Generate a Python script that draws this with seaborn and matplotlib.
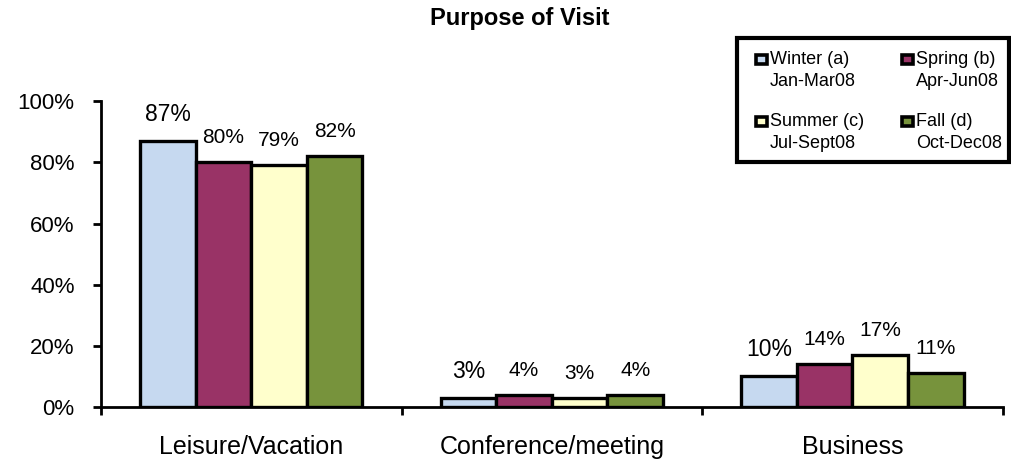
import matplotlib
matplotlib.use("Agg")
import matplotlib.pyplot as plt
from matplotlib.patches import Rectangle
import seaborn as sns
import pandas as pd

categories = ["Leisure/Vacation", "Conference/meeting", "Business"]
seasons = ["Winter (a)", "Spring (b)", "Summer (c)", "Fall (d)"]
periods = ["Jan-Mar08", "Apr-Jun08", "Jul-Sept08", "Oct-Dec08"]
winter = [87, 3, 10]
spring = [80, 4, 14]
summer = [79, 3, 17]
fall = [82, 4, 11]
colors = ["#C6D9F0", "#993366", "#FFFFCC", "#77933C"]
yticks = [0, 20, 40, 60, 80, 100]

rows = []
for season, vals in zip(seasons, [winter, spring, summer, fall]):
    for cat, v in zip(categories, vals):
        rows.append({"category": cat, "season": season, "pct": v})
df = pd.DataFrame(rows)

sns.set_theme(style="white")
plt.rcParams["font.family"] = ["Liberation Sans", "DejaVu Sans"]
plt.rcParams["text.color"] = "black"
plt.rcParams["xtick.color"] = "black"
plt.rcParams["ytick.color"] = "black"

W, H = 1012, 462
fig = plt.figure(figsize=(W / 100, H / 100), dpi=100)
ax = fig.add_axes([0.0998, 0.119, 0.891, 0.662])

sns.barplot(data=df, x="category", y="pct", hue="season", order=categories,
            hue_order=seasons, palette=colors, width=0.74, gap=0,
            edgecolor="black", linewidth=2.4, saturation=1, ax=ax,
            legend=False, errorbar=None)

for i, cont in enumerate(ax.containers):
    ax.bar_label(cont, labels=[f"{v:.0f}%" for v in cont.datavalues],
                 padding=11, fontsize=16.5 if i == 0 else 15)

ax.set_ylim(0, 100)
ax.set_xlim(-0.5, 2.5)
ax.set_yticks(yticks)
ax.set_yticklabels([f"{t}%" for t in yticks], fontsize=16)
ax.set_xticks([-0.5, 0.5, 1.5, 2.5])
ax.set_xticklabels([])
ax.set_xticks([0, 1, 2], minor=True)
ax.set_xticklabels(categories, minor=True, fontsize=18)
ax.tick_params(axis="x", which="minor", length=0, pad=20)
ax.tick_params(axis="x", which="major", direction="out", length=6, width=2,
               bottom=True)
ax.tick_params(axis="y", direction="out", length=6, width=2, left=True,
               pad=13)
ax.set_xlabel("")
ax.set_ylabel("")

for side in ["top", "right"]:
    ax.spines[side].set_visible(False)
for side in ["left", "bottom"]:
    ax.spines[side].set_color("black")
    ax.spines[side].set_linewidth(2)

fig.text(520 / W, 1 - 19 / H, "Purpose of Visit", ha="center", va="center",
         fontsize=17, fontweight="bold")

# Legend box: two columns, each entry has a season name and its months
fig.patches.append(Rectangle((737 / W, 1 - 162 / H), 272 / W, 124 / H,
                             transform=fig.transFigure, facecolor="white",
                             edgecolor="black", linewidth=3, zorder=5))
col_x = [756, 902]
row_y = [59, 121]
for k, (season, period, c) in enumerate(zip(seasons, periods, colors)):
    cx = col_x[k % 2]
    cy = row_y[k // 2]
    fig.patches.append(Rectangle((cx / W, 1 - (cy + 5) / H), 11 / W, 9 / H,
                                 transform=fig.transFigure, facecolor=c,
                                 edgecolor="black", linewidth=2.6, zorder=6))
    fig.text((cx + 14) / W, 1 - cy / H, season, ha="left", va="center",
             fontsize=13, zorder=7)
    fig.text((cx + 14) / W, 1 - (cy + 23) / H, period, ha="left",
             va="center", fontsize=13, zorder=7)

fig.savefig("out.png", dpi=100, facecolor="white")
